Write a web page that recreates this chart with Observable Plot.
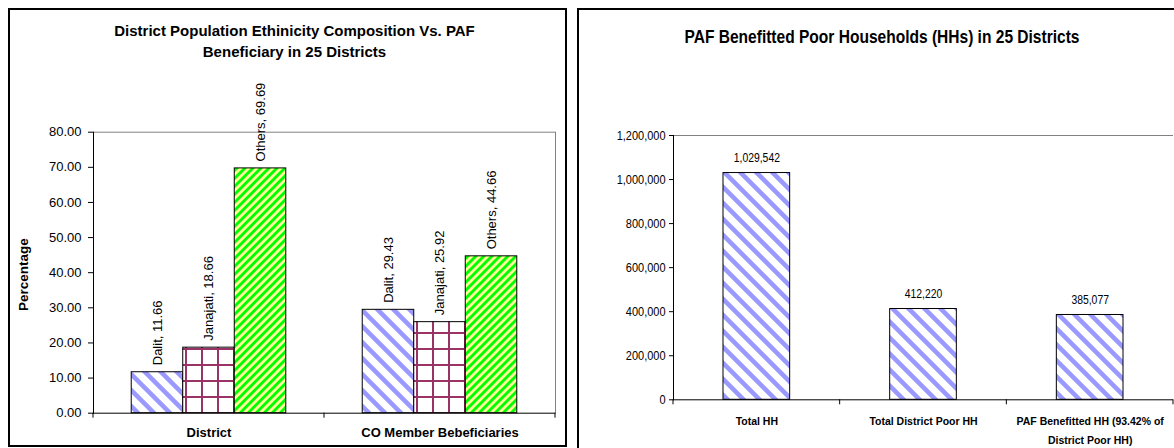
<!DOCTYPE html>
<html><head><meta charset="utf-8">
<script src="https://cdn.jsdelivr.net/npm/d3@7"></script>
<script src="https://cdn.jsdelivr.net/npm/@observablehq/plot@0.6"></script>
<style>
html,body{margin:0;padding:0;background:#fff;}
body{position:relative;width:1174px;height:448px;overflow:hidden;font-family:"Liberation Sans",Arial,sans-serif;}
.panel{position:absolute;box-sizing:border-box;border:2px solid #000;}
#leftPanel{left:8px;top:8px;width:559px;height:439px;}
#rightPanel{left:577px;top:8px;width:700px;height:500px;}
.title{position:absolute;font-weight:bold;text-align:center;white-space:nowrap;color:#000;transform-origin:50% 50%;}
#leftTitle{left:294.5px;top:20px;font-size:15px;line-height:21px;transform:translateX(-50%);}
#rightTitle{left:881.5px;top:26px;font-size:18.5px;line-height:22px;font-family:"Liberation Sans Narrow","Arial Narrow","Liberation Sans",sans-serif;}
.chart{position:absolute;}
#leftChart{left:9px;top:60px;}
#rightChart{left:580px;top:60px;}
</style></head>
<body>
<svg width="0" height="0" style="position:absolute">
  <defs>
    <pattern id="pDalit" patternUnits="userSpaceOnUse" width="16" height="16">
      <rect width="16" height="16" fill="#ffffff"/>
      <path d="M-4,-20L20,4M-4,-4L20,20M-4,12L20,36" stroke="#9999ff" stroke-width="4.5" fill="none"/>
    </pattern>
    <pattern id="pJanajati" patternUnits="userSpaceOnUse" width="16" height="16">
      <rect width="16" height="16" fill="#ffffff"/>
      <rect x="0" y="0" width="2" height="16" fill="#993366"/>
      <rect x="0" y="0" width="16" height="2" fill="#993366"/>
    </pattern>
    <pattern id="pOthers" patternUnits="userSpaceOnUse" width="8" height="8">
      <rect width="8" height="8" fill="#ffff99"/>
      <path d="M-2,2L2,-2M-2,10L10,-2M6,10L10,6" stroke="#00ff00" stroke-width="2.9" fill="none"/>
    </pattern>
  </defs>
</svg>
<div class="panel" id="leftPanel"></div>
<div class="panel" id="rightPanel"></div>
<div class="title" id="leftTitle">District Population Ethinicity Composition Vs. PAF<br>Beneficiary in 25 Districts</div>
<div class="title" id="rightTitle">PAF Benefitted Poor Households (HHs) in 25 Districts</div>
<div class="chart" id="leftChart"></div>
<div class="chart" id="rightChart"></div>
<script>
// ---- Data ----
const ethnicGroups = ["Dalit", "Janajati", "Others"];
const populationCategories = ["District", "CO Member Bebeficiaries"];
const districtShares = [11.66, 18.66, 69.69];
const coMemberShares = [29.43, 25.92, 44.66];
const percentTicks = [0, 10, 20, 30, 40, 50, 60, 70, 80];

const householdCategories = ["Total HH", "Total District Poor HH", "PAF Benefitted HH (93.42% of\nDistrict Poor HH)"];
const householdCounts = [1029542, 412220, 385077];
const householdTicks = [0, 200000, 400000, 600000, 800000, 1000000, 1200000];

const patternUrl = {Dalit: "url(#pDalit)", Janajati: "url(#pJanajati)", Others: "url(#pOthers)"};

const shareSeries = [districtShares, coMemberShares];
const leftRows = [];
populationCategories.forEach((c, ci) => ethnicGroups.forEach((g, gi) =>
  leftRows.push({category: c, group: g, value: shareSeries[ci][gi]})));
const rightRows = householdCategories.map((c, i) => ({category: c, value: householdCounts[i]}));

const sansFont = "'Liberation Sans', Arial, sans-serif";

// ---- Left chart ----
const left = Plot.plot({
  width: 557, height: 380,
  marginLeft: 84, marginRight: 11, marginTop: 71.7, marginBottom: 27.3,
  style: {fontFamily: sansFont, fontSize: "13px", color: "#000", background: "transparent", overflow: "visible"},
  fx: {domain: populationCategories, padding: 0, round: false, label: null},
  x: {domain: ethnicGroups, paddingInner: 0, paddingOuter: 0.742, round: false, axis: null},
  y: {domain: [0, 80], label: null},
  marks: [
    Plot.ruleY([80], {stroke: "#808080"}),
    ...ethnicGroups.map(g => Plot.barY(leftRows.filter(d => d.group === g),
      {fx: "category", x: "group", y: "value", fill: patternUrl[g], stroke: "#000", strokeWidth: 1})),
    Plot.text(leftRows, {fx: "category", x: "group", y: "value",
      text: d => `${d.group}, ${d.value.toFixed(2)}`, rotate: -90, textAnchor: "start", dy: -7, fill: "#000"}),
    Plot.frame({anchor: "right", facetAnchor: "right", stroke: "#808080"}),
    Plot.frame({anchor: "left", facetAnchor: "left", stroke: "#000"}),
    Plot.ruleY([0], {stroke: "#000"}),
    Plot.axisY({ticks: percentTicks, tickFormat: d3.format(".2f"), tickSize: 5, tickPadding: 7, label: null}),
    Plot.text(["Percentage"], {text: d => d, frameAnchor: "left", facetAnchor: "left", textAnchor: "middle", rotate: -90, dx: -70, dy: 2, fontWeight: "bold", fontSize: 13.5}),
    Plot.axisFx({anchor: "bottom", tickSize: 0, tickPadding: 15, fontWeight: "bold", label: null})
  ]
});
document.getElementById("leftChart").append(left);

// ---- Right chart ----
const right = Plot.plot({
  width: 594, height: 388,
  marginLeft: 93, marginRight: 1, marginTop: 75, marginBottom: 48.7,
  style: {fontFamily: sansFont, fontSize: "13px", color: "#000", background: "transparent", overflow: "visible"},
  x: {domain: householdCategories, paddingInner: 0.6, paddingOuter: 0.3, round: false, axis: null},
  y: {domain: [0, 1200000], label: null},
  marks: [
    Plot.ruleY([1200000], {stroke: "#808080"}),
    Plot.barY(rightRows, {x: "category", y: "value", fill: "url(#pDalit)", stroke: "#000", strokeWidth: 1}),
    Plot.text(rightRows, {x: "category", y: "value", text: d => d3.format(",")(d.value), dy: -11, lineAnchor: "bottom", fill: "#000", ariaDescription: "value label"}),
    Plot.frame({anchor: "left", stroke: "#000"}),
    Plot.ruleY([0], {stroke: "#000"}),
    Plot.axisY({ticks: householdTicks, tickFormat: d3.format(","), tickSize: 4, tickPadding: 4, label: null}),
    Plot.text(rightRows, {x: "category", frameAnchor: "bottom", text: "category", lineAnchor: "top", dy: 12, lineHeight: 1.6, fontSize: 11.8, fontWeight: "bold", fill: "#000", ariaDescription: "category label"})
  ]
});
document.getElementById("rightChart").append(right);

// ---- Excel-style category boundary tick marks, from each chart's own band scale ----
function boundaryTicks(svg, desc, yDesc, len) {
  const s = d3.scaleBand(desc.domain, desc.range)
    .paddingInner(desc.paddingInner ?? desc.padding ?? 0)
    .paddingOuter(desc.paddingOuter ?? desc.padding ?? 0)
    .align(desc.align ?? 0.5);
  const half = (s.step() - s.bandwidth()) / 2;
  const xs = s.domain().map(d => s(d) - half);
  xs.push(xs[xs.length - 1] + s.step());
  const y0 = d3.scaleLinear(yDesc.domain, yDesc.range)(0);
  d3.select(svg).append("g").attr("stroke", "#000")
    .selectAll("line").data(xs).join("line")
    .attr("x1", d => d).attr("x2", d => d).attr("y1", y0).attr("y2", y0 + len);
}
boundaryTicks(left, left.scale("fx"), left.scale("y"), 5);
boundaryTicks(right, right.scale("x"), right.scale("y"), 5);

// ---- Narrow (Arial Narrow-like) lettering for the right chart ----
function condense(elems, factor) {
  elems.forEach(t => {
    const tr = t.getAttribute("transform");
    const hasXY = (t.getAttribute("x") && +t.getAttribute("x") !== 0);
    if (tr && !hasXY) {
      t.setAttribute("transform", `${tr} scale(${factor},1)`);
    } else {
      const parts = t.querySelectorAll("tspan");
      (parts.length ? Array.from(parts) : [t]).forEach(el => {
        const L = el.getComputedTextLength();
        if (L > 0) {
          el.setAttribute("textLength", (L * factor).toFixed(2));
          el.setAttribute("lengthAdjust", "spacingAndGlyphs");
        }
      });
    }
  });
}
function textsOf(svg, desc) {
  return Array.from(svg.querySelectorAll(`g[aria-description="${desc}"] text, text[aria-description="${desc}"]`));
}
condense(Array.from(right.querySelectorAll('g[aria-label="y-axis tick label"] text')), 0.845);
condense(textsOf(right, "value label"), 0.8);
condense(textsOf(right, "category label"), 0.89);

// fit right title to reference width
const rt = document.getElementById("rightTitle");
const w = rt.getBoundingClientRect().width;
rt.style.transform = `translateX(-50%) scaleX(${395 / w})`;
</script>
</body></html>
